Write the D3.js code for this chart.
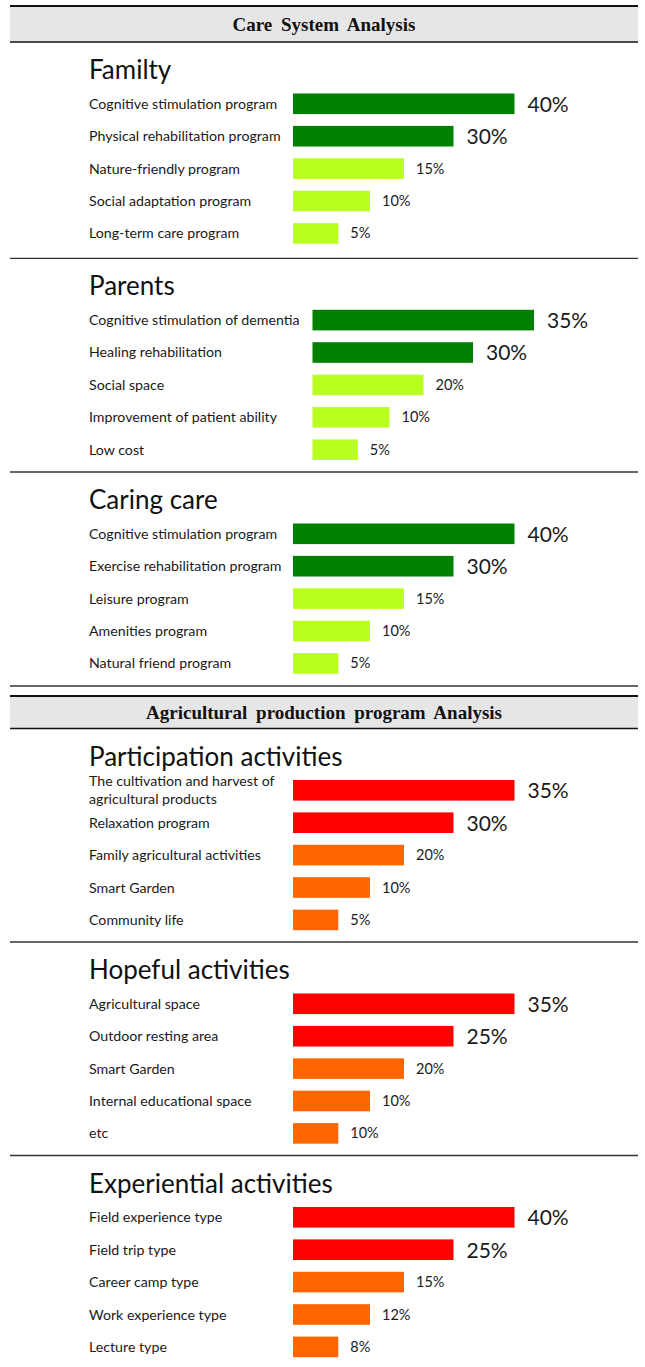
<!DOCTYPE html>
<html>
<head>
<meta charset="utf-8">
<script src="https://cdn.jsdelivr.net/npm/d3@7"></script>
<style>
  body { margin: 0; background: #fff; }
  svg { display: block; }
</style>
</head>
<body>
<svg></svg>
<script>
// group headers
const groupTitles = ["Care System Analysis", "Agricultural production program Analysis"];

// section titles, two groups of three
const sectionTitles = [
  "Familty", "Parents", "Caring care",
  "Participation activities", "Hopeful activities", "Experiential activities"
];

// row labels and values for each section
const familyLabels = ["Cognitive stimulation program", "Physical rehabilitation program", "Nature-friendly program", "Social adaptation program", "Long-term care program"];
const familyValues = [40, 30, 15, 10, 5];

const parentsLabels = ["Cognitive stimulation of dementia", "Healing rehabilitation", "Social space", "Improvement of patient ability", "Low cost"];
const parentsValues = [35, 30, 20, 10, 5];

const caringLabels = ["Cognitive stimulation program", "Exercise rehabilitation program", "Leisure program", "Amenities program", "Natural friend program"];
const caringValues = [40, 30, 15, 10, 5];

const participationLabels = ["The cultivation and harvest of\nagricultural products", "Relaxation program", "Family agricultural activities", "Smart Garden", "Community life"];
const participationValues = [35, 30, 20, 10, 5];

const hopefulLabels = ["Agricultural space", "Outdoor resting area", "Smart Garden", "Internal educational space", "etc"];
const hopefulValues = [35, 25, 20, 10, 10];

const experientialLabels = ["Field experience type", "Field trip type", "Career camp type", "Work experience type", "Lecture type"];
const experientialValues = [40, 25, 15, 12, 8];

const sectionLabels = [familyLabels, parentsLabels, caringLabels, participationLabels, hopefulLabels, experientialLabels];
const sectionValues = [familyValues, parentsValues, caringValues, participationValues, hopefulValues, experientialValues];

const W = 645, H = 1367;
const svg = d3.select("svg").attr("width", W).attr("height", H);

const FONT = "Lato, 'Noto Sans', sans-serif";
const lineX0 = 10, lineX1 = 638;

// header layout: top rule y and band bottom y
const headerTop = [6, 696];
const headerBottom = [42, 728.5];
// section tops (the rule above each section)
const sectionTop = [42, 258.3, 472, 728.5, 942, 1155.5];
// separators under sections
const separators = [258.3, 472, 686, 942, 1155.5];

// bars in the picture are sized by rank, not by value
const rankLength = d3.scaleOrdinal().domain(d3.range(5)).range([221.5, 160.5, 111, 77, 45.3]);
const rowY = d3.scaleLinear().domain([0, 4]).range([61.8, 61.8 + 4 * 32.4]);

const palettes = [
  ["#008000", "#b9ff1f"],
  ["#ff0000", "#ff6600"]
];

// headers
headerTop.forEach((t, g) => {
  svg.append("rect")
    .attr("x", lineX0).attr("y", t)
    .attr("width", lineX1 - lineX0).attr("height", headerBottom[g] - t)
    .attr("fill", "#e6e6e6");
  svg.append("line")
    .attr("x1", lineX0).attr("x2", lineX1)
    .attr("y1", t).attr("y2", t)
    .attr("stroke", "#111").attr("stroke-width", 2.2);
  svg.append("line")
    .attr("x1", lineX0).attr("x2", lineX1)
    .attr("y1", headerBottom[g]).attr("y2", headerBottom[g])
    .attr("stroke", "#111").attr("stroke-width", 1.5);
  svg.append("text")
    .attr("x", 324).attr("y", (t + headerBottom[g]) / 2 + 6.5)
    .attr("text-anchor", "middle")
    .attr("font-family", "'Liberation Serif', 'Times New Roman', serif")
    .attr("font-weight", "bold")
    .attr("font-size", 19)
    .attr("word-spacing", 4)
    .attr("fill", "#111")
    .text(groupTitles[g]);
});

// separators
svg.selectAll("line.sep")
  .data(separators)
  .join("line")
  .attr("class", "sep")
  .attr("x1", lineX0).attr("x2", lineX1)
  .attr("y1", d => d).attr("y2", d => d)
  .attr("stroke", "#333").attr("stroke-width", 1.3);

// sections
sectionTitles.forEach((title, s) => {
  const top = sectionTop[s];
  const g = s < 3 ? 0 : 1;
  const barX = s === 1 ? 312.5 : 293;
  const colors = palettes[g];

  const sec = svg.append("g").attr("transform", `translate(0,${top})`);

  sec.append("text")
    .attr("x", 89).attr("y", 37)
    .attr("font-family", FONT)
    .attr("font-size", 26)
    .attr("fill", "#111")
    .text(title);

  const rows = sectionLabels[s].map((label, i) => ({ label, value: sectionValues[s][i], i }));

  sec.selectAll("rect.bar")
    .data(rows)
    .join("rect")
    .attr("class", "bar")
    .attr("x", barX)
    .attr("y", d => rowY(d.i) - 10.3)
    .attr("width", d => rankLength(d.i))
    .attr("height", 20.6)
    .attr("fill", d => d.i < 2 ? colors[0] : colors[1]);

  const labels = sec.selectAll("text.label")
    .data(rows)
    .join("text")
    .attr("class", "label")
    .attr("x", 89)
    .attr("y", d => rowY(d.i))
    .attr("font-family", FONT)
    .attr("font-size", 14.2)
    .attr("fill", "#1a1a1a");

  labels.each(function (d) {
    const parts = d.label.split("\n");
    const t = d3.select(this);
    if (parts.length === 1) {
      t.append("tspan").attr("x", 89).attr("dy", 5).text(parts[0]);
    } else {
      t.append("tspan").attr("x", 89).attr("dy", -4).text(parts[0]);
      t.append("tspan").attr("x", 89).attr("dy", 18).text(parts[1]);
    }
  });

  sec.selectAll("text.value")
    .data(rows)
    .join("text")
    .attr("class", "value")
    .attr("x", d => barX + rankLength(d.i) + (d.i < 2 ? 13 : 12))
    .attr("y", d => rowY(d.i) + (d.i < 2 ? 8 : 5))
    .attr("font-family", FONT)
    .attr("font-size", d => d.i < 2 ? 21 : 14.5)
    .attr("fill", "#1a1a1a")
    .text(d => d.value + "%");
});
</script>
</body>
</html>
